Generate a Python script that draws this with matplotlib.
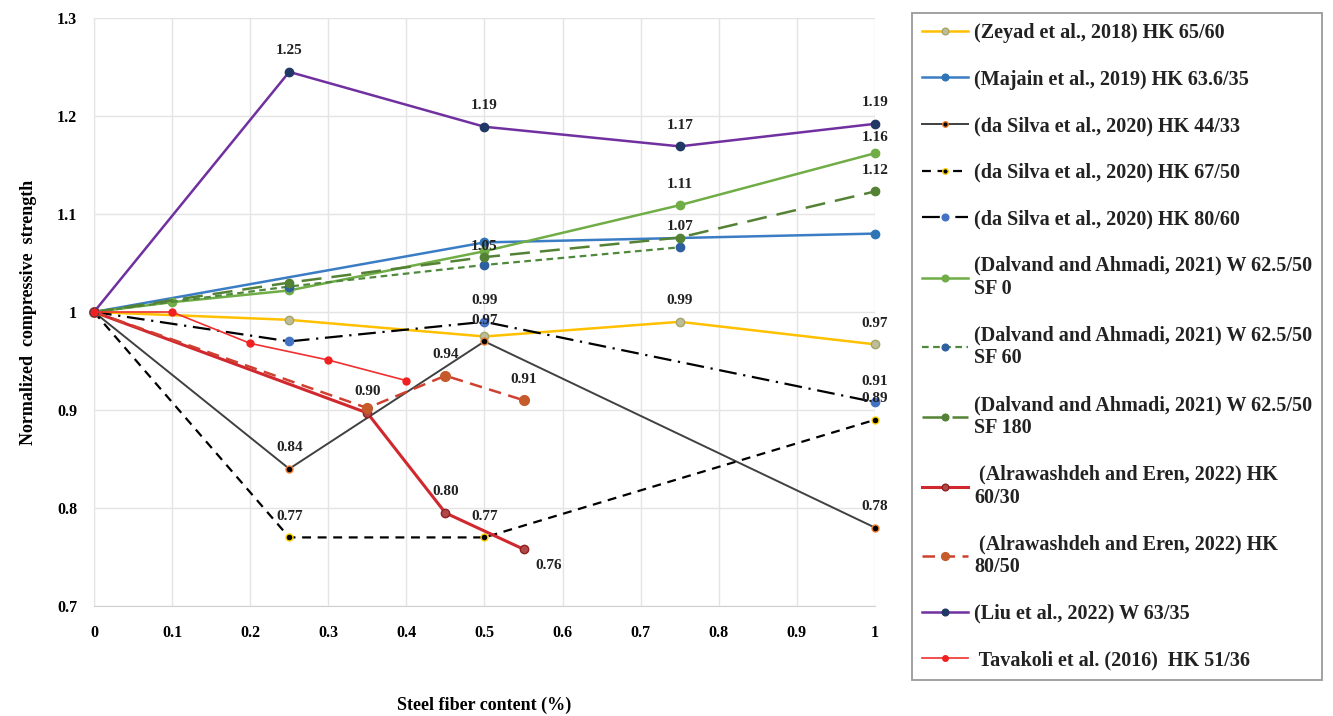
import matplotlib
matplotlib.use("Agg")
import matplotlib.pyplot as plt

plt.rcParams['font.family'] = ['Liberation Serif', 'DejaVu Serif']
plt.rcParams['font.weight'] = 'bold'

# ---- data ----
x_zeyad = [0, 0.25, 0.5, 0.75, 1]
y_zeyad = [1, 0.992, 0.975, 0.99, 0.967]

x_majain = [0, 0.5, 1]
y_majain = [1, 1.071, 1.08]

x_silva44 = [0, 0.25, 0.5, 1]
y_silva44 = [1, 0.84, 0.97, 0.78]

x_silva67 = [0, 0.25, 0.5, 1]
y_silva67 = [1, 0.77, 0.77, 0.89]

x_silva80 = [0, 0.25, 0.5, 1]
y_silva80 = [1, 0.97, 0.99, 0.908]

x_dal0 = [0, 0.1, 0.25, 0.5, 0.75, 1]
y_dal0 = [1, 1.01, 1.022, 1.062, 1.109, 1.162]

x_dal60 = [0, 0.25, 0.5, 0.75]
y_dal60 = [1, 1.026, 1.048, 1.066]

x_dal180 = [0, 0.25, 0.5, 0.75, 1]
y_dal180 = [1, 1.03, 1.056, 1.076, 1.123]

x_alr60 = [0, 0.35, 0.45, 0.55]
y_alr60 = [1, 0.897, 0.795, 0.758]

x_alr80 = [0, 0.35, 0.45, 0.55]
y_alr80 = [1, 0.902, 0.935, 0.91]

x_liu = [0, 0.25, 0.5, 0.75, 1]
y_liu = [1, 1.245, 1.189, 1.169, 1.192]

x_tav = [0, 0.1, 0.2, 0.3, 0.4]
y_tav = [1, 1.0, 0.968, 0.951, 0.93]

labels = [
    "(Zeyad et al., 2018) HK 65/60",
    "(Majain et al., 2019) HK 63.6/35",
    "(da Silva et al., 2020) HK 44/33",
    "(da Silva et al., 2020) HK 67/50",
    "(da Silva et al., 2020) HK 80/60",
    "(Dalvand and Ahmadi, 2021) W 62.5/50\nSF 0",
    "(Dalvand and Ahmadi, 2021) W 62.5/50\nSF 60",
    "(Dalvand and Ahmadi, 2021) W 62.5/50\nSF 180",
    " (Alrawashdeh and Eren, 2022) HK\n60/30",
    " (Alrawashdeh and Eren, 2022) HK\n80/50",
    "(Liu et al., 2022) W 63/35",
    " Tavakoli et al. (2016)  HK 51/36",
]

# value annotations: (x, y, text)
ann_x = [0.25, 0.5, 0.75, 1, 1, 1, 0.75, 0.75, 0.5, 0.5, 0.5, 0.75, 1, 1, 1, 1, 0.25, 0.25, 0.35, 0.45, 0.55, 0.45, 0.5, 0.55]
ann_y = [1.245, 1.189, 1.169, 1.192, 1.162, 1.123, 1.109, 1.066, 1.048, 0.99, 0.97, 0.99, 0.967, 0.908, 0.89, 0.78, 0.84, 0.77, 0.897, 0.935, 0.91, 0.795, 0.77, 0.758]
ann_t = ["1.25", "1.19", "1.17", "1.19", "1.16", "1.12", "1.11", "1.07", "1.05", "0.99", "0.97", "0.99", "0.97", "0.91", "0.89", "0.78", "0.84", "0.77", "0.90", "0.94", "0.91", "0.80", "0.77", "0.76"]

fig = plt.figure(figsize=(13.33, 7.16), dpi=100)
ax = fig.add_axes([0.0705, 0.1536, 0.5859, 0.8213])

series = [
    (x_zeyad, y_zeyad, dict(color='#FFC000', lw=1.8, ls='-', marker='o', ms=6, mfc='#bdbd9a', mec='#a5a56a')),
    (x_majain, y_majain, dict(color='#3b7dc4', lw=1.8, ls='-', marker='o', ms=6, mfc='#2e75b6', mec='#2e75b6')),
    (x_silva44, y_silva44, dict(color='#404040', lw=1.4, ls='-', marker='o', ms=5, mfc='#000000', mec='#ED7D31')),
    (x_silva67, y_silva67, dict(color='#000000', lw=1.6, ls=(0, (4, 3)), marker='o', ms=5, mfc='#000000', mec='#FFD000')),
    (x_silva80, y_silva80, dict(color='#000000', lw=1.6, ls=(0, (8, 3, 1, 3)), marker='o', ms=6, mfc='#4472C4', mec='#4472C4')),
    (x_dal0, y_dal0, dict(color='#70AD47', lw=1.8, ls='-', marker='o', ms=6, mfc='#70AD47', mec='#70AD47')),
    (x_dal60, y_dal60, dict(color='#4f8a3c', lw=1.6, ls=(0, (3, 2)), marker='o', ms=6, mfc='#2e5f9e', mec='#2e5f9e')),
    (x_dal180, y_dal180, dict(color='#548235', lw=1.8, ls=(0, (8, 4)), marker='o', ms=6, mfc='#548235', mec='#548235')),
    (x_alr60, y_alr60, dict(color='#d0282e', lw=2.2, ls='-', marker='o', ms=6, mfc='#b04848', mec='#902020')),
    (x_alr80, y_alr80, dict(color='#d04030', lw=1.8, ls=(0, (5, 3)), marker='o', ms=7, mfc='#c55a2a', mec='#c55a2a')),
    (x_liu, y_liu, dict(color='#7030A0', lw=1.8, ls='-', marker='o', ms=6, mfc='#203864', mec='#203864')),
    (x_tav, y_tav, dict(color='#f03030', lw=1.2, ls='-', marker='o', ms=5, mfc='#f02020', mec='#f02020')),
]

handles = []
for (xs, ys, st), lab in zip(series, labels):
    h, = ax.plot(xs, ys, label=lab, **st)
    handles.append(h)

for xv, yv, t in zip(ann_x, ann_y, ann_t):
    dx, dy = 0, 21
    if t == "0.76":
        dx, dy = 25, -16
    elif t == "1.16":
        dy = 16
    elif t == "1.05":
        dy = 18
    ax.annotate(t, (xv, yv), xytext=(dx, dy), textcoords='offset pixels',
                ha='center', va='center', fontsize=11, fontweight='bold', color='#222222')

ax.set_xlim(0, 1)
ax.set_ylim(0.7, 1.3)
ax.set_xticks([0, 0.1, 0.2, 0.3, 0.4, 0.5, 0.6, 0.7, 0.8, 0.9, 1])
ax.set_xticklabels(['0', '0.1', '0.2', '0.3', '0.4', '0.5', '0.6', '0.7', '0.8', '0.9', '1'])
ax.set_yticks([0.7, 0.8, 0.9, 1.0, 1.1, 1.2, 1.3])
ax.set_yticklabels(['0.7', '0.8', '0.9', '1', '1.1', '1.2', '1.3'])
ax.tick_params(axis='both', length=0, labelsize=11.5)
ax.tick_params(axis='x', pad=14)
ax.tick_params(axis='y', pad=12)
for lbl in ax.get_xticklabels() + ax.get_yticklabels():
    lbl.set_fontweight('bold')
ax.grid(True, color='#e4e4e4', lw=1)
ax.set_axisbelow(True)
for s in ['top', 'right']:
    ax.spines[s].set_visible(False)
for s in ['left', 'bottom']:
    ax.spines[s].set_color('#d0d0d0')
for sp in ax.spines.values():
    sp.set_zorder(0)
for line in handles:
    line.set_clip_on(False)

ax.set_xlabel('Steel fiber content (%)', fontsize=13, fontweight='bold', labelpad=40)
ax.set_ylabel('Normalized  compressive  strength', fontsize=13, fontweight='bold', labelpad=14)

leg = fig.legend(handles=handles, loc='upper left', bbox_to_anchor=(0.684, 0.982),
                 frameon=True, fancybox=False, edgecolor='#808080', fontsize=14.5,
                 handlelength=2.3, handletextpad=0.3, labelspacing=1.32,
                 borderpad=0.5, borderaxespad=0, markerscale=0.8)
leg.get_frame().set_linewidth(1.3)
for t in leg.get_texts():
    t.set_fontweight('bold')
    t.set_color('#222222')

fig.savefig('out.png', dpi=100)
